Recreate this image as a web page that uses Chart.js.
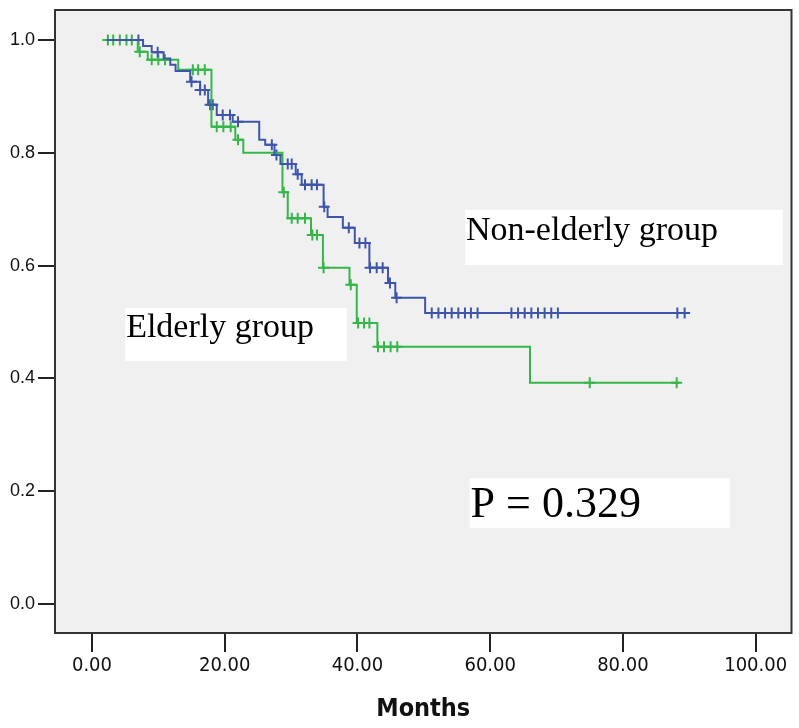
<!DOCTYPE html>
<html>
<head>
<meta charset="utf-8">
<script src="https://cdn.jsdelivr.net/npm/chart.js@4/dist/chart.umd.min.js"></script>
<style>
  html, body { margin: 0; padding: 0; background: #fff; }
  #wrap { width: 799px; height: 728px; }
</style>
</head>
<body>
<div id="wrap"><canvas id="km"></canvas></div>
<script>
// Non-elderly group: event times (months) and survival after each step
const blueTimes = [2.2, 7.7, 9.0, 10.8, 11.8, 12.6, 14.8, 16.3, 17.5, 18.8, 21.2, 25.2, 26.1, 27.5, 28.4, 30.7, 31.6, 34.9, 35.5, 37.8, 39.6, 41.8, 44.6, 45.7, 50.2, 89.3];
const blueSurv  = [1.0, 0.989, 0.978, 0.967, 0.956, 0.945, 0.926, 0.911, 0.885, 0.867, 0.855, 0.823, 0.814, 0.796, 0.78, 0.762, 0.743, 0.704, 0.686, 0.667, 0.640, 0.596, 0.569, 0.543, 0.516, 0.516];
const blueCensored = [7.0, 9.9, 15.0, 16.3, 17.0, 17.8, 18.2, 19.7, 20.8, 22.0, 27.1, 27.8, 29.5, 30.1, 31.0, 32.1, 33.1, 33.9, 35.0, 38.7, 40.3, 41.2, 41.9, 42.9, 43.8, 44.9, 45.9,
  51.2, 52.2, 53.2, 54.2, 55.2, 56.2, 57.1, 58.1, 63.2, 64.2, 65.2, 66.2, 67.2, 68.2, 69.2, 70.2, 88.2, 89.3];

// Elderly group
const greenTimes = [2.2, 6.9, 8.4, 13.0, 18.0, 21.6, 22.8, 28.7, 29.5, 33.0, 34.8, 38.8, 39.9, 43.0, 66.0, 88.5];
const greenSurv  = [1.0, 0.979, 0.965, 0.947, 0.846, 0.823, 0.80, 0.73, 0.684, 0.654, 0.596, 0.566, 0.498, 0.456, 0.392, 0.392];
const greenCensored = [2.4, 3.2, 4.2, 5.2, 6.0, 7.2, 9.0, 10.0, 11.0, 15.2, 16.0, 17.0, 18.8, 19.8, 20.9, 22.0, 28.9, 30.1, 31.0, 32.1, 33.2, 33.9, 34.9,
  39.0, 40.1, 41.0, 41.8, 43.1, 44.0, 45.0, 46.0, 75.0, 88.1];

const xTicks = [0, 20, 40, 60, 80, 100];
const yTicks = [0, 0.2, 0.4, 0.6, 0.8, 1.0];

const blueColor = "#3e55ab";
const greenColor = "#36b64a";

// survival value at time t
function survAt(times, surv, t) {
  let s = surv[0];
  for (let i = 0; i < times.length; i++) {
    if (times[i] <= t) s = surv[i];
  }
  return s;
}

function steps(times, surv) {
  return times.map((t, i) => ({ x: t, y: surv[i] }));
}

function marks(times, surv, cens) {
  return cens.map(t => ({ x: t, y: survAt(times, surv, t) }));
}

// text boxes, anchored in data coordinates
const notes = [
  { text: "Non-elderly group", x0: 56.2, x1: 104.1, y0: 0.699, y1: 0.601, baseY: 0.645, size: 34 },
  { text: "Elderly group", x0: 5.0, x1: 38.4, y0: 0.525, y1: 0.431, baseY: 0.474, size: 34 },
  { text: "P = 0.329", x0: 56.9, x1: 96.1, y0: 0.223, y1: 0.135, baseY: 0.155, size: 44 }
];

const framePlugin = {
  id: "frame",
  beforeDatasetsDraw(chart) {
    const { ctx, chartArea: a } = chart;
    ctx.save();
    ctx.fillStyle = "#f0f0f0";
    ctx.fillRect(a.left, a.top, a.right - a.left, a.bottom - a.top);
    ctx.restore();
  },
  afterDatasetsDraw(chart) {
    const { ctx, chartArea: a, scales } = chart;
    ctx.save();
    notes.forEach(n => {
      const l = scales.x.getPixelForValue(n.x0);
      const r = scales.x.getPixelForValue(n.x1);
      const t = scales.y.getPixelForValue(n.y0);
      const b = scales.y.getPixelForValue(n.y1);
      ctx.fillStyle = "#fff";
      ctx.fillRect(l, t, r - l, b - t);
      ctx.fillStyle = "#000";
      ctx.font = n.size + "px 'Liberation Serif', 'Times New Roman', serif";
      ctx.textBaseline = "alphabetic";
      ctx.fillText(n.text, l + 1, scales.y.getPixelForValue(n.baseY));
    });
    ctx.strokeStyle = "#333";
    ctx.lineWidth = 2;
    ctx.strokeRect(a.left, a.top, a.right - a.left, a.bottom - a.top);
    ctx.restore();
  }
};

new Chart(document.getElementById("km"), {
  type: "line",
  data: {
    datasets: [
      {
        label: "Non-elderly group",
        data: steps(blueTimes, blueSurv),
        stepped: true,
        borderColor: blueColor,
        borderWidth: 2,
        pointRadius: 0,
        fill: false
      },
      {
        label: "Elderly group",
        data: steps(greenTimes, greenSurv),
        stepped: true,
        borderColor: greenColor,
        borderWidth: 2,
        pointRadius: 0,
        fill: false
      },
      {
        label: "Non-elderly censored",
        data: marks(blueTimes, blueSurv, blueCensored),
        showLine: false,
        pointStyle: "cross",
        pointRadius: 5.5,
        pointBorderWidth: 2,
        borderColor: blueColor
      },
      {
        label: "Elderly censored",
        data: marks(greenTimes, greenSurv, greenCensored),
        showLine: false,
        pointStyle: "cross",
        pointRadius: 5.5,
        pointBorderWidth: 2,
        borderColor: greenColor
      }
    ]
  },
  options: {
    responsive: true,
    maintainAspectRatio: false,
    animation: false,
    layout: { padding: { top: 10, right: 7, left: 0, bottom: 0 } },
    plugins: { legend: { display: false }, tooltip: { enabled: false } },
    scales: {
      x: {
        type: "linear",
        min: -5.57,
        max: 105.4,
        afterBuildTicks: axis => { axis.ticks = xTicks.map(v => ({ value: v })); },
        afterFit: axis => { axis.height = 95; axis.paddingLeft = 0; axis.paddingRight = 0; },
        ticks: {
          callback: v => v.toFixed(2),
          color: "#111",
          padding: 2,
          maxRotation: 0,
          font: { family: "'Liberation Sans Narrow', 'DejaVu Sans Condensed', Arial", size: 20 }
        },
        grid: { drawOnChartArea: false, tickLength: 19, color: "#222", lineWidth: 2 },
        border: { display: false },
        title: {
          display: true,
          text: "Months",
          color: "#111",
          font: { family: "'Liberation Sans Narrow', 'DejaVu Sans Condensed', Arial", size: 25, weight: "bold" }
        }
      },
      y: {
        type: "linear",
        min: -0.0514,
        max: 1.053,
        afterBuildTicks: axis => { axis.ticks = yTicks.map(v => ({ value: v })); },
        afterFit: axis => { axis.width = 55; axis.paddingTop = 0; axis.paddingBottom = 0; },
        ticks: {
          callback: v => v.toFixed(1),
          color: "#111",
          padding: 3,
          font: { family: "'Liberation Sans', Arial", size: 18 }
        },
        grid: { drawOnChartArea: false, tickLength: 17, color: "#222", lineWidth: 2 },
        border: { display: false }
      }
    }
  },
  plugins: [framePlugin]
});
</script>
</body>
</html>
